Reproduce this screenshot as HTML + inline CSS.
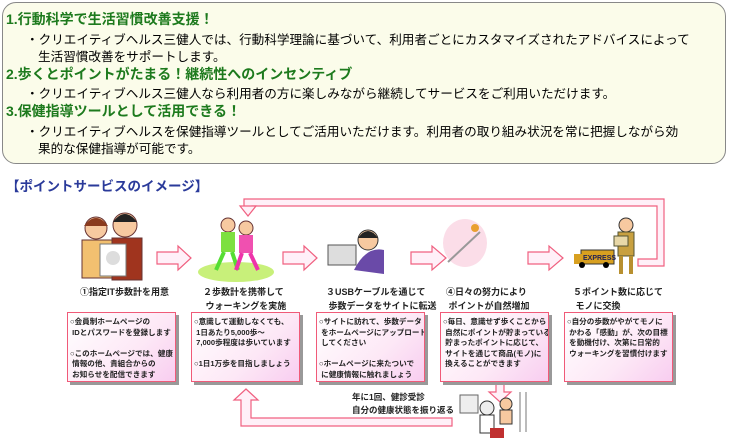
<!DOCTYPE html>
<html><head><meta charset="utf-8"><style>
body{margin:0;width:730px;height:442px;background:#fff;position:relative;overflow:hidden;font-family:"Liberation Sans","Noto Sans CJK JP",sans-serif;}
.top{position:absolute;left:2px;top:2px;width:722px;height:160px;border:1px solid #888;border-radius:14px;background:#fbfcea;}
.t{position:absolute;white-space:nowrap;}
.h{color:#1d7a1d;font-weight:bold;font-size:14px;left:6px;}
.b{font-size:12.6px;color:#000;left:26px;}
.title{color:#2a3a9a;font-weight:bold;font-size:13.5px;left:6px;top:175px;}
.lab{font-size:9px;font-weight:bold;color:#222;text-align:left;line-height:14px;}
.box{position:absolute;top:312px;width:109px;height:70px;border:1px solid #f05a78;background:linear-gradient(135deg,#fff 0%,#fde8f6 60%,#f8cdf0 100%);box-shadow:3px 3px 0 #999;font-size:7.6px;font-weight:bold;line-height:10.5px;padding:4px 2px;box-sizing:border-box;color:#222;white-space:nowrap;overflow:hidden;}
</style></head><body>
<div class="top"></div>
<div class="t h" style="top:9px">1.行動科学で生活習慣改善支援！</div>
<div class="t b" style="top:29px">・クリエイティブヘルス三健人では、行動科学理論に基づいて、利用者ごとにカスタマイズされたアドバイスによって</div>
<div class="t b" style="top:46px;left:38px">生活習慣改善をサポートします。</div>
<div class="t h" style="top:64px">2.歩くとポイントがたまる！継続性へのインセンティブ</div>
<div class="t b" style="top:83px">・クリエイティブヘルス三健人なら利用者の方に楽しみながら継続してサービスをご利用いただけます。</div>
<div class="t h" style="top:101px">3.保健指導ツールとして活用できる！</div>
<div class="t b" style="top:121px">・クリエイティブヘルスを保健指導ツールとしてご活用いただけます。利用者の取り組み状況を常に把握しながら効</div>
<div class="t b" style="top:138px;left:38px">果的な保健指導が可能です。</div>
<div class="t title">【ポイントサービスのイメージ】</div>

<svg style="position:absolute;left:0;top:0" width="730" height="442">
<g fill="#fff0f8" stroke="#f06080" stroke-width="1.2">
<path d="M244,207 V199 H664 V266 H638 V259 H657 V206 H252 V207 Z"/>
<path d="M240,206 H256 L248,216 Z"/>
<path d="M157,252 H178 V246 L191,258 L178,270 V264 H157 Z"/>
<path d="M283,252 H304 V246 L317,258 L304,270 V264 H283 Z"/>
<path d="M411,252 H432 V246 L446,258 L432,270 V264 H411 Z"/>
<path d="M528,252 H549 V246 L563,258 L549,270 V264 H528 Z"/>
<path d="M496,382 H504 V392 H511 L500,402 L489,392 H496 Z"/>
<path d="M241,400 H234 L246,389 L258,400 H251 V418 H452 V426 H241 Z"/>
</g>
<g>
<circle cx="96" cy="228" r="11" fill="#f7c9a0" stroke="#633" /><path d="M84,226 q12,-16 24,0" fill="#8a3a1e"/>
<rect x="82" y="240" width="30" height="38" fill="#f2c070" stroke="#633"/>
<circle cx="125" cy="225" r="12" fill="#f7c9a0" stroke="#633"/><path d="M113,222 q12,-16 24,0" fill="#222"/>
<rect x="112" y="238" width="30" height="42" fill="#a0341e" stroke="#633"/>
<rect x="100" y="244" width="26" height="32" fill="#fff" stroke="#777"/><circle cx="113" cy="258" r="7" fill="#ddd"/>
<ellipse cx="236" cy="272" rx="38" ry="10" fill="#c8f07a"/>
<circle cx="228" cy="225" r="7" fill="#f7c9a0" stroke="#633"/><rect x="221" y="232" width="14" height="20" fill="#7de040"/>
<path d="M224,252 l-8,18 M232,252 l6,18" stroke="#5d3" stroke-width="4"/>
<circle cx="246" cy="228" r="7" fill="#f7c9a0" stroke="#633"/><rect x="239" y="235" width="14" height="18" fill="#f050b0"/>
<path d="M242,253 l-6,17 M250,253 l8,17" stroke="#e3a" stroke-width="4"/>
<rect x="328" y="245" width="28" height="20" fill="#ddd" stroke="#555"/>
<circle cx="368" cy="240" r="10" fill="#f7c9a0" stroke="#333"/><path d="M358,238 q10,-14 20,0" fill="#222"/>
<path d="M354,270 q12,-24 30,-20 v24 z" fill="#6a4aa8"/>
<ellipse cx="465" cy="243" rx="22" ry="24" fill="#fbdde8"/>
<path d="M448,262 l32,-30" stroke="#999" stroke-width="2"/><circle cx="475" cy="228" r="4" fill="#e9a030"/>
<rect x="581" y="250" width="33" height="14" fill="#d8a020" stroke="#333"/><text x="583" y="260" font-size="7" font-weight="bold" fill="#225">EXPRESS</text>
<rect x="574" y="254" width="8" height="10" fill="#d8a020"/><circle cx="582" cy="265" r="3"/><circle cx="606" cy="265" r="3"/>
<circle cx="626" cy="225" r="7" fill="#f7c9a0" stroke="#333"/><rect x="618" y="232" width="16" height="24" fill="#c8a040" stroke="#553"/>
<rect x="614" y="236" width="14" height="10" fill="#e8d8a8" stroke="#553"/>
<path d="M621,256 v18 M631,256 v18" stroke="#b89030" stroke-width="4"/>
<rect x="460" y="395" width="18" height="18" fill="#eee" stroke="#666"/>
<circle cx="487" cy="408" r="7" fill="#eee" stroke="#333"/><rect x="480" y="415" width="14" height="18" fill="#fff" stroke="#333"/>
<circle cx="506" cy="404" r="6" fill="#f7c9a0" stroke="#333"/><rect x="500" y="410" width="12" height="14" fill="#f7c9a0" stroke="#333"/>
<rect x="490" y="428" width="14" height="10" fill="#c03030"/>
<path d="M520,392 v40 M526,392 v40" stroke="#777"/>
</g>
</svg>

<div class="t lab" style="left:80px;top:285px">①指定IT歩数計を用意</div>
<div class="t lab" style="left:203px;top:285px">２歩数計を携帯して<br>&nbsp;ウォーキングを実施</div>
<div class="t lab" style="left:326px;top:285px">３USBケーブルを通じて<br>&nbsp;歩数データをサイトに転送</div>
<div class="t lab" style="left:446px;top:285px">④日々の努力により<br>&nbsp;ポイントが自然増加</div>
<div class="t lab" style="left:573px;top:285px">５ポイント数に応じて<br>&nbsp;モノに交換</div>

<div class="box" style="left:67px">○会員制ホームページの<br>&nbsp;IDとパスワードを登録します<br><br>○このホームページでは、健康<br>&nbsp;情報の他、貴組合からの<br>&nbsp;お知らせを配信できます</div>
<div class="box" style="left:191px">○意識して運動しなくても、<br>&nbsp;1日あたり5,000歩～<br>&nbsp;7,000歩程度は歩いています<br><br>○1日1万歩を目指しましょう</div>
<div class="box" style="left:316px">○サイトに訪れて、歩数データ<br>&nbsp;をホームページにアップロード<br>&nbsp;してください<br><br>○ホームページに来たついで<br>&nbsp;に健康情報に触れましょう</div>
<div class="box" style="left:440px">○毎日、意識せず歩くことから<br>&nbsp;自然にポイントが貯まっている<br>&nbsp;貯まったポイントに応じて、<br>&nbsp;サイトを通じて商品(モノ)に<br>&nbsp;換えることができます</div>
<div class="box" style="left:564px">○自分の歩数がやがてモノに<br>&nbsp;かわる「感動」が、次の目標<br>&nbsp;を動機付け、次第に日常的<br>&nbsp;ウォーキングを習慣付けます</div>

<div class="t lab" style="left:352px;top:391px;font-size:8.5px;line-height:13px">年に1回、健診受診<br>自分の健康状態を振り返る</div>
</body></html>
